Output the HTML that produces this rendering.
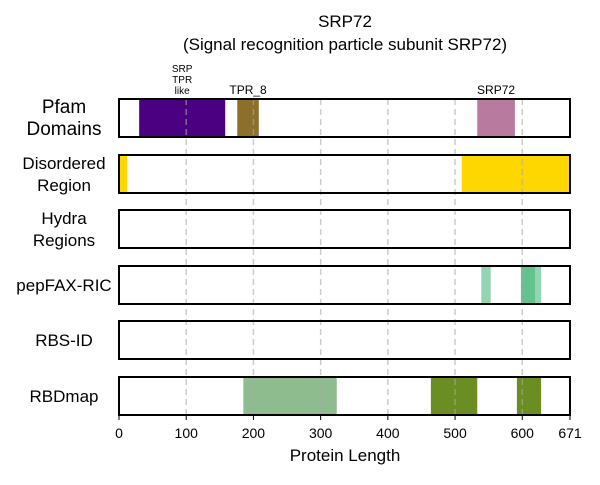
<!DOCTYPE html>
<html><head><meta charset="utf-8"><style>
body{margin:0;background:#fff;font-family:"Liberation Sans",sans-serif;}
svg text{font-family:"Liberation Sans",sans-serif;}
</style></head><body>
<svg id="c" width="600" height="480" viewBox="0 0 600 480" xmlns="http://www.w3.org/2000/svg">
<text x="345" y="27" text-anchor="middle" font-size="17">SRP72</text>
<text x="345" y="50" text-anchor="middle" font-size="17">(Signal recognition particle subunit SRP72)</text>
</svg>
<script>
const rowNames=["Pfam\nDomains","Disordered\nRegion","Hydra\nRegions","pepFAX-RIC","RBS-ID","RBDmap"];
const pfamDomains=[[30,158,"SRP\nTPR\nlike","#4b0082"],[176,208,"TPR_8","#8b6f2a"],[533,589,"SRP72","#b87a9e"]];
const disordered=[[0,12],[510,671]];
const hydra=[];
const pepfax=[[539,553],[598,628],[598,619]];
const rbsid=[];
const rbdmap=[[185,324,"#8fbc8f"],[464,533,"#6b8e23"],[592,628,"#6b8e23"]];
const xTicks=[0,100,200,300,400,500,600,671];
const protLen=671;
const NS="http://www.w3.org/2000/svg";
const svg=document.getElementById('c');
const x0=119,x1=570;
const X=v=>x0+(v/protLen)*(x1-x0);
const rowTop=[99,155,210,266,321,377],rowH=38;
function el(t,a){const e=document.createElementNS(NS,t);for(const k in a)e.setAttribute(k,a[k]);svg.appendChild(e);return e;}
function rect(a,b,r,fill,name){const e=el('rect',{x:X(a),y:rowTop[r],width:X(b)-X(a),height:rowH,fill:fill});

return e;}
pfamDomains.forEach(d=>rect(d[0],d[1],0,d[3],'pfam-domain'));
disordered.forEach(d=>rect(d[0],d[1],1,'#ffd700','disordered-region'));
hydra.forEach(d=>rect(d[0],d[1],2,'#888','hydra-region'));
pepfax.forEach(d=>{const e=rect(d[0],d[1],3,'#3cb371','pepfax-region');e.setAttribute('fill-opacity','0.55');});
rbsid.forEach(d=>rect(d[0],d[1],4,'#888','rbsid-region'));
rbdmap.forEach(d=>rect(d[0],d[1],5,d[2],'rbdmap-region'));
// grid
xTicks.filter(t=>t>0&&t<protLen).forEach(t=>{
 const l=el('line',{x1:X(t),x2:X(t),y1:rowTop[0],y2:rowTop[5]+rowH,stroke:'#aaa','stroke-width':1.5,'stroke-dasharray':'6,4','stroke-opacity':0.6});
 
 
});
// row frames and labels
rowNames.forEach((n,i)=>{
 const f=el('rect',{x:x0,y:rowTop[i],width:x1-x0,height:rowH,fill:'none',stroke:'#000','stroke-width':2});
 
 
 const lines=n.split('\n');const fs=i===0?19:17;
 lines.forEach((s,j)=>{
  const t=el('text',{x:64,y:rowTop[i]+rowH/2+6+(j-(lines.length-1)/2)*22,'text-anchor':'middle','font-size':fs});
  t.textContent=s;
  
  
 });
});
// pfam labels
pfamDomains.forEach(d=>{
 const c=(X(d[0])+X(d[1]))/2;const lines=d[2].split('\n');
 const fs=lines.length>1?10:12;
 lines.forEach((s,j)=>{
  const t=el('text',{x:c,y:rowTop[0]-5-(lines.length-1-j)*11,'text-anchor':'middle','font-size':fs});
  t.textContent=s;
  
  
 });
});
// x axis
xTicks.forEach(t=>{
 const l=el('line',{x1:X(t),x2:X(t),y1:415,y2:420,stroke:'#000','stroke-width':1});
 
 
 const tx=el('text',{x:X(t),y:438,'text-anchor':'middle','font-size':14});
 tx.textContent=t;
 
 
});
const at=el('text',{x:345,y:461,'text-anchor':'middle','font-size':17});
at.textContent='Protein Length';


</script>
</body></html>
